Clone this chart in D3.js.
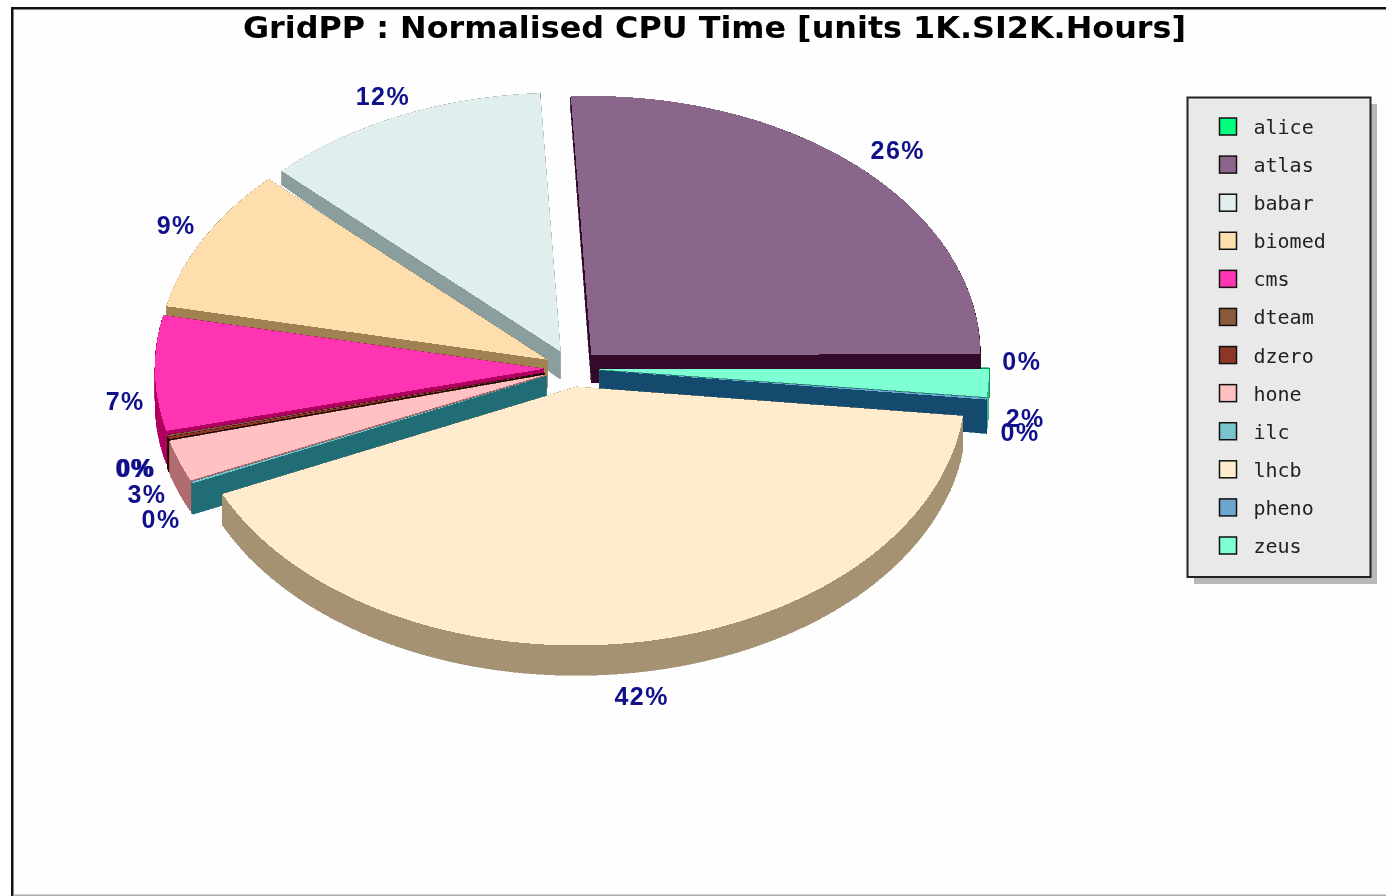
<!DOCTYPE html>
<html>
<head>
<meta charset="utf-8">
<script src="https://cdn.jsdelivr.net/npm/d3@7"></script>
<style>
  html, body { margin: 0; padding: 0; background: #fff; overflow: hidden; }
  svg { filter: blur(0.4px); }
</style>
</head>
<body>
<script>
// Series in the order the chart stacks them, anticlockwise from the east
var names = ['alice','atlas','babar','biomed','cms','dteam','dzero','hone','ilc','lhcb','pheno','zeus'];
var values = [0.05,25.85,11.9,9.0,7.2,0.1,0.15,2.6,0.1,41.5,0.1,1.7];
var percentLabels = ['0%','26%','12%','9%','7%','0%','0%','3%','0%','42%','0%','2%'];
var topColors = ['#00ff7f','#8b668b','#e0eeee','#ffdead','#ff34b3','#8b5a3c','#8b3626','#ffc1c1','#7ac5cd','#ffebcd','#6ca6cd','#7fffd4'];
var wallColors = ['#009a4c','#330a2a','#8a9e9e','#a08252','#b0005f','#3a1c10','#200800','#b06c6e','#206d75','#a59273','#134a6e','#3fb08a'];

// back slices first, lhcb sits on top of everything
var paintOrder = ['alice','atlas','babar','biomed','cms','dteam','dzero','hone','ilc','zeus','pheno','lhcb'];

var width = 1386, height = 896;
var cx = 572, cy = 368.5, rx = 389, ry = 258.5;
var explode = 0.072;
var labelRadius = 1.087;

var svg = d3.select('body').append('svg')
    .attr('width', width)
    .attr('height', height)
    .style('display', 'block');

// Unit circle -> screen ellipse
var xScale = d3.scaleLinear().domain([-1, 1]).range([cx - rx, cx + rx]);
var yScale = d3.scaleLinear().domain([-1, 1]).range([cy + ry, cy - ry]);

// The wall gets taller towards the viewer
var wallDepth = d3.scaleLinear()
    .domain([171, 355, 396, 480, 650])
    .range([14, 28, 34, 31, 30])
    .clamp(true);

// Labels in the lower half sit below the wall
var labelDrop = d3.scaleLinear().domain([-1, 1]).range([25, 38]);

// Frame: heavy top and left, thin grey bottom, open on the right
svg.append('rect').attr('x', 12).attr('y', 8).attr('width', 1374).attr('height', 888).attr('fill', '#fefefe');
svg.append('rect').attr('x', 11).attr('y', 7).attr('width', 1375).attr('height', 2.5).attr('fill', '#111');
svg.append('rect').attr('x', 11).attr('y', 7).attr('width', 2.5).attr('height', 889).attr('fill', '#111');
svg.append('rect').attr('x', 13).attr('y', 894.5).attr('width', 1373).attr('height', 1.5).attr('fill', '#aaa');

svg.append('text')
    .attr('x', 714.5).attr('y', 38)
    .attr('text-anchor', 'middle')
    .attr('font-family', '"DejaVu Sans", sans-serif')
    .attr('font-weight', 'bold')
    .attr('font-size', 31)
    .attr('fill', '#000')
    .attr('textLength', 943)
    .attr('lengthAdjust', 'spacingAndGlyphs')
    .text('GridPP : Normalised CPU Time [units 1K.SI2K.Hours]');

var pie = d3.pie().sort(null).value(function(d) { return d; }).startAngle(0).endAngle(2 * Math.PI);
var arcs = pie(values);

var line = d3.line().x(function(d) { return d[0]; }).y(function(d) { return d[1]; });

function slicePoints(a) {
    var mid = (a.startAngle + a.endAngle) / 2;
    var ox = explode * Math.cos(mid), oy = explode * Math.sin(mid);
    var pts = [[xScale(ox), yScale(oy)]];
    var n = Math.max(1, Math.ceil((a.endAngle - a.startAngle) / 0.01));
    for (var i = 0; i <= n; i++) {
        var t = a.startAngle + (a.endAngle - a.startAngle) * i / n;
        pts.push([xScale(ox + Math.cos(t)), yScale(oy + Math.sin(t))]);
    }
    return pts;
}

var pieGroup = svg.append('g').attr('shape-rendering', 'crispEdges');

paintOrder.forEach(function(name) {
    var i = names.indexOf(name);
    var pts = slicePoints(arcs[i]);
    var g = pieGroup.append('g').attr('class', 'slice ' + name);

    // wall: every edge of the outline pushed down
    var closed = pts.concat([pts[0]]);
    for (var k = 0; k < closed.length - 1; k++) {
        var p = closed[k], q = closed[k + 1];
        var quad = [p, q, [q[0], q[1] + wallDepth(q[1])], [p[0], p[1] + wallDepth(p[1])]];
        g.append('path')
            .attr('d', line(quad) + 'Z')
            .attr('fill', wallColors[i])
            .attr('stroke', wallColors[i])
            .attr('stroke-width', 0.6);
    }

    g.append('path')
        .attr('d', line(pts) + 'Z')
        .attr('fill', topColors[i]);
});

// Percent labels, nudged where the ring position alone misses
var labelShift = {
    alice: [-1, -7], atlas: [16, -1], babar: [-3, 0], biomed: [2, -2], cms: [4, 2], dteam: [0, 1], dzero: [0.7, -1.1],
    ilc: [0, 1], lhcb: [-1, -1], pheno: [0, -7], zeus: [3, -4]
};

svg.append('g').selectAll('text')
    .data(arcs)
    .enter()
    .append('text')
        .attr('x', function(d, i) {
            var mid = (d.startAngle + d.endAngle) / 2;
            var shift = labelShift[names[i]] || [0, 0];
            return xScale((explode + labelRadius) * Math.cos(mid)) + shift[0];
        })
        .attr('y', function(d, i) {
            var mid = (d.startAngle + d.endAngle) / 2;
            var shift = labelShift[names[i]] || [0, 0];
            var y = yScale((explode + labelRadius) * Math.sin(mid));
            if (Math.sin(mid) < 0) y += labelDrop(Math.cos(mid));
            return y + 9 + shift[1];
        })
        .attr('text-anchor', 'middle')
        .attr('font-family', '"Liberation Sans", Arial, sans-serif')
        .attr('font-weight', 'bold')
        .attr('font-size', 25)
        .attr('letter-spacing', 1.5)
        .attr('fill', '#10108a')
        .text(function(d, i) { return percentLabels[i]; });

// Legend
var legend = svg.append('g');
legend.append('rect').attr('x', 1194).attr('y', 104).attr('width', 183).attr('height', 480).attr('fill', '#b8b8b8');
legend.append('rect').attr('x', 1187.5).attr('y', 97.5).attr('width', 183).attr('height', 479.5)
    .attr('fill', '#e9e9e9').attr('stroke', '#222').attr('stroke-width', 2);

var legendY = d3.scalePoint().domain(names).range([126, 545]);

var rows = legend.selectAll('g.row')
    .data(names)
    .enter()
    .append('g')
        .attr('class', 'row')
        .attr('transform', function(d) { return 'translate(0,' + legendY(d) + ')'; });

rows.append('rect')
    .attr('x', 1219.5).attr('y', -8).attr('width', 17).attr('height', 17)
    .attr('fill', function(d, i) { return topColors[i]; })
    .attr('stroke', '#111').attr('stroke-width', 1.5);

rows.append('text')
    .attr('x', 1253.5).attr('y', 8)
    .attr('font-family', '"DejaVu Sans Mono", monospace')
    .attr('font-size', 20)
    .attr('fill', '#222')
    .text(function(d) { return d; });
</script>
</body>
</html>
